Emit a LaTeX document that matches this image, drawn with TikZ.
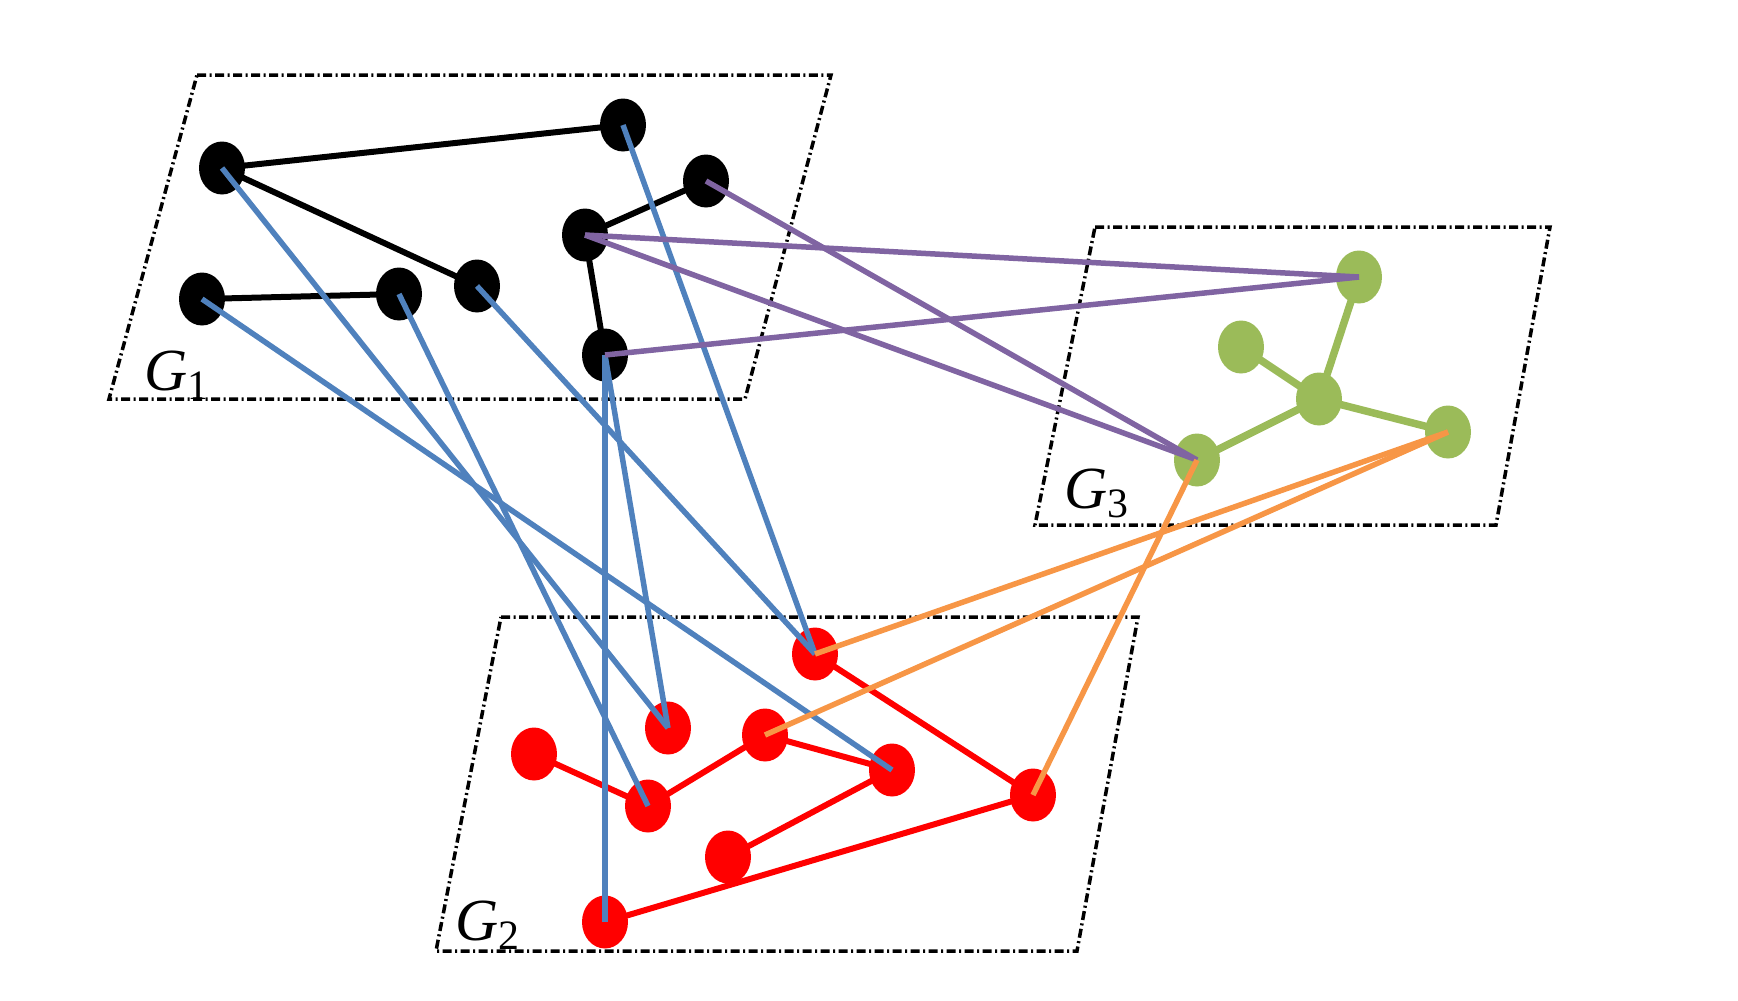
\documentclass[tikz,border=0pt]{standalone}
\usepackage{fontspec}
\setmainfont{Liberation Serif}
\usetikzlibrary{shapes.geometric,backgrounds}
\definecolor{linkblue}{RGB}{79,129,189}
\definecolor{linkpurple}{RGB}{128,100,162}
\definecolor{linkorange}{RGB}{247,150,70}
\definecolor{leafgreen}{RGB}{155,187,89}

\begin{document}
\begin{tikzpicture}[x=0.1mm,y=-0.1mm,
  vertex/.style={ellipse,inner sep=0pt,minimum width=4.6mm,minimum height=5.3mm},
  plane/.style={line width=0.35mm,dash pattern=on 0.9mm off 0.35mm on 0.2mm off 0.35mm},
  inner/.style={line width=0.6mm},
  cross/.style={line width=0.55mm},
  planelabel/.style={font=\fontsize{17}{19}\selectfont\itshape,inner sep=0pt}]
\useasboundingbox (0,0) rectangle (1738,1000);
% G1 vertices
\foreach \n/\x/\y in {a1/222/168,a2/623/125,a3/706/181,a4/585/235,a5/605/355,
                      a6/202/299,a7/399/294,a8/477/286}
  \node[vertex,fill=black] (\n) at (\x,\y) {};
% G2 vertices
\foreach \n/\x/\y in {r1/815/654,r2/668/728,r3/765/735,r4/534/754,r5/892/770,
                      r6/648/806,r7/1033/795,r8/728/857,r9/605/922}
  \node[vertex,fill=red] (\n) at (\x,\y) {};
% G3 vertices
\foreach \n/\x/\y in {g1/1359/277,g2/1241/347,g3/1319/399,g4/1448/432,g5/1197/460}
  \node[vertex,fill=leafgreen] (\n) at (\x,\y) {};
\begin{scope}[on background layer]
% planes
\draw[plane] (197,75) -- (831,75) -- (745,399) -- (109,399) -- cycle;
\draw[plane] (501,617) -- (1138,617) -- (1077,951) -- (436,951) -- cycle;
\draw[plane] (1095,227) -- (1550,227) -- (1496,525) -- (1035,525) -- cycle;
% edges inside each graph
\foreach \u/\v in {a1/a2,a1/a8,a6/a7,a4/a3,a4/a5}
  \draw[inner,black] (\u.center) -- (\v.center);
\foreach \u/\v in {r4/r6,r6/r3,r3/r5,r5/r8,r9/r7,r1/r7}
  \draw[inner,red] (\u.center) -- (\v.center);
\foreach \u/\v in {g1/g3,g2/g3,g3/g4,g3/g5}
  \draw[inner,leafgreen,line width=0.75mm] (\u.center) -- (\v.center);
\end{scope}
\node[planelabel] (gone) at (177,375) {G\textsubscript{\upshape 1}};
\node[planelabel] (gtwo) at (488,925) {G\textsubscript{\upshape 2}};
\node[planelabel] (gthree) at (1097,493) {G\textsubscript{\upshape 3}};
% links between graphs
\foreach \u/\v in {a1/r2,a7/r6,a6/r5,a8/r1,a2/r1,a5/r9,a5/r2}
  \draw[cross,linkblue] (\u.center) -- (\v.center);
\foreach \u/\v in {a3/g5,a4/g1,a4/g5,a5/g1}
  \draw[cross,linkpurple] (\u.center) -- (\v.center);
\foreach \u/\v in {r1/g4,r3/g4,g5/r7}
  \draw[cross,linkorange] (\u.center) -- (\v.center);
\end{tikzpicture}
\end{document}
